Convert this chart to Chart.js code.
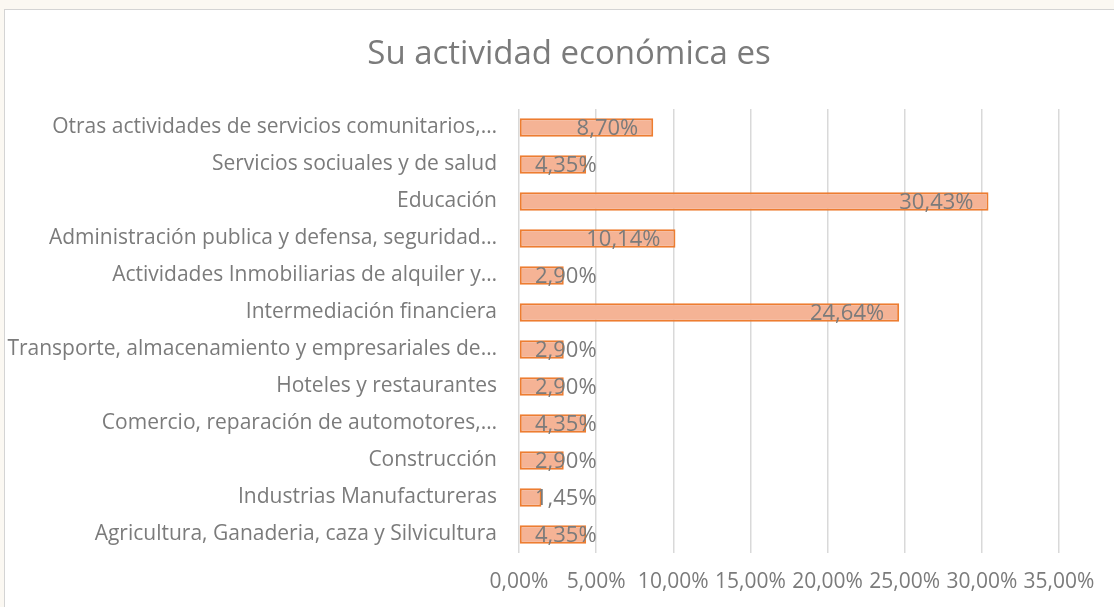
<!DOCTYPE html>
<html>
<head>
<meta charset="utf-8">
<script src="https://cdn.jsdelivr.net/npm/chart.js@4/dist/chart.umd.min.js"></script>
<style>
  html, body { margin: 0; padding: 0; background: #fbf8f2; overflow: hidden; }
  #box {
    position: absolute; left: 4px; top: 9px; width: 1120px; height: 610px;
    background: #fff; border: 1px solid #d4d4d4;
  }
  canvas { position: absolute; left: 0; top: 0; }
</style>
</head>
<body>
<div id="box"><canvas id="chart" width="1109" height="597"></canvas></div>
<script>
// categories top -> bottom, as in the picture
const categories = [
  'Otras actividades de servicios comunitarios,…',
  'Servicios sociuales y de salud',
  'Educación',
  'Administración publica y defensa, seguridad…',
  'Actividades Inmobiliarias de alquiler y…',
  'Intermediación financiera',
  'Transporte, almacenamiento y empresariales de…',
  'Hoteles y restaurantes',
  'Comercio, reparación de automotores,…',
  'Construcción',
  'Industrias Manufactureras',
  'Agricultura, Ganaderia, caza y Silvicultura'
];
const shares = [8.70, 4.35, 30.43, 10.14, 2.90, 24.64, 2.90, 2.90, 4.35, 2.90, 1.45, 4.35];
const xTicks = [0, 5, 10, 15, 20, 25, 30, 35];
const chartTitle = 'Su actividad económica es';

const fmt = v => v.toFixed(2).replace('.', ',') + '%';
const grey = '#7b7b7b';

// Excel style "inside end" labels, pushed right when the bar is too short
const barLabels = {
  id: 'barLabels',
  afterDatasetsDraw(chart) {
    const ctx = chart.ctx;
    const meta = chart.getDatasetMeta(0);
    const left = chart.chartArea.left;
    ctx.save();
    ctx.font = '22px "Open Sans"';
    ctx.fillStyle = grey;
    ctx.textAlign = 'right';
    ctx.textBaseline = 'middle';
    meta.data.forEach((bar, i) => {
      const txt = fmt(shares[i]);
      const w = ctx.measureText(txt).width;
      const x = Math.max(bar.x - 15, left + 16 + w);
      ctx.fillText(txt, x, bar.y + 1);
    });
    ctx.restore();
  }
};

// title centred on the whole frame, not on the padded layout box
const frameTitle = {
  id: 'frameTitle',
  afterDraw(chart) {
    const ctx = chart.ctx;
    ctx.save();
    ctx.font = '33px "Open Sans"';
    ctx.fillStyle = grey;
    ctx.textAlign = 'center';
    ctx.textBaseline = 'middle';
    ctx.fillText(chartTitle, 564, 45);
    ctx.restore();
  }
};

new Chart(document.getElementById('chart'), {
  type: 'bar',
  data: {
    labels: categories,
    datasets: [{
      data: shares,
      backgroundColor: '#f5b395',
      borderColor: '#ed7d31',
      borderWidth: 2,
      borderSkipped: false,
      barPercentage: 0.5,
      categoryPercentage: 1
    }]
  },
  options: {
    indexAxis: 'y',
    responsive: false,
    animation: false,
    layout: { padding: { left: 0, right: 55, top: 99, bottom: 0 } },
    plugins: {
      legend: { display: false },
      tooltip: { enabled: false },
      title: { display: false }
    },
    scales: {
      x: {
        min: 0,
        max: 35,
        afterBuildTicks: scale => { scale.ticks = xTicks.map(v => ({ value: v })); },
        afterFit: scale => { scale.height = 54; },
        grid: { color: '#d9d9d9', lineWidth: 1.5, drawTicks: false },
        border: { display: false },
        ticks: {
          color: grey,
          font: { family: 'Open Sans', size: 21 },
          padding: 16,
          maxRotation: 0,
          autoSkip: false,
          callback: v => fmt(v)
        }
      },
      y: {
        afterFit: scale => { scale.width = 514; },
        grid: { display: false },
        border: { display: false },
        ticks: {
          color: grey,
          font: { family: 'Open Sans', size: 21 },
          padding: 14,
          autoSkip: false
        }
      }
    }
  },
  plugins: [barLabels, frameTitle]
});
</script>
</body>
</html>
